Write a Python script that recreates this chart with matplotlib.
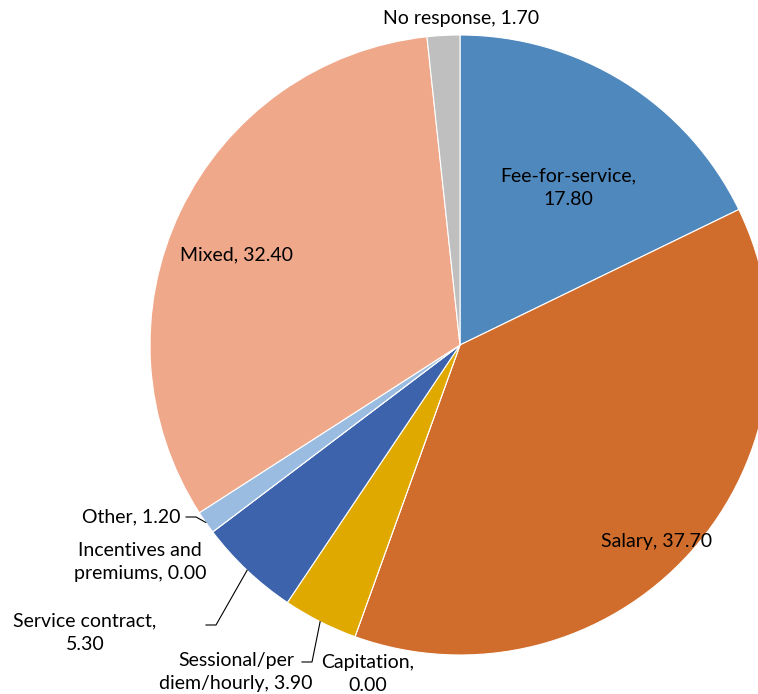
import numpy as np
import matplotlib
matplotlib.use("Agg")
import matplotlib.pyplot as plt

plt.rcParams['font.family'] = ['Lato', 'DejaVu Sans']

categories = ['Fee-for-service', 'Salary', 'Capitation', 'Sessional/per\ndiem/hourly',
              'Service contract', 'Incentives and\npremiums', 'Other', 'Mixed', 'No response']
values = [17.80, 37.70, 0.00, 3.90, 5.30, 0.00, 1.20, 32.40, 1.70]
colors = ['#4F88BC', '#D16D2C', '#A5A5A5', '#E0A900', '#3C63AC',
          '#70AD47', '#9BBCE1', '#F0A88A', '#BFBFBF']

W, H = 758, 694
fig = plt.figure(figsize=(W / 100, H / 100), dpi=100)
ax = fig.add_axes([0, 0, 1, 1])

cx, cy, R = 460, H - 345, 310
wedges, _ = ax.pie(values, colors=colors, startangle=90, counterclock=False,
                   center=(cx, cy), radius=R, frame=True,
                   wedgeprops=dict(edgecolor='white', linewidth=0.8))
ax.set_xlim(0, W)
ax.set_ylim(0, H)
ax.set_aspect('equal')
ax.axis('off')

# label placement (pixel coords from top-left), alignment, leader line elbow
layout = {
    'Fee-for-service': ((568, 188), 'center', None),
    'Salary': ((657, 541), 'center', None),
    'Mixed': ((236, 255), 'center', None),
    'No response': ((461, 18), 'center', None),
    'Other': ((181, 517), 'right', (186, 517)),
    'Incentives and\npremiums': ((140, 562), 'center', None),
    'Service contract': ((85, 633), 'center', (206, 625)),
    'Sessional/per\ndiem/hourly': ((236, 672), 'center', (302, 662)),
    'Capitation': ((368, 674), 'center', None),
}

for w, name, v in zip(wedges, categories, values):
    (px, py), ha, elbow = layout[name]
    text = f'{name}, {v:.2f}'
    if name in ('Fee-for-service', 'Service contract', 'Capitation'):
        text = f'{name},\n{v:.2f}'
    ax.text(px, H - py, text, ha=ha, va='center', fontsize=14,
            color='black', linespacing=1.45)
    if elbow is not None:
        ang = np.deg2rad((w.theta1 + w.theta2) / 2)
        ex, ey = cx + R * np.cos(ang), cy + R * np.sin(ang)
        ax.plot([elbow[0], elbow[0] + 10, ex], [H - elbow[1], H - elbow[1], ey],
                color='black', linewidth=0.8)

fig.savefig('out.png', dpi=100)
